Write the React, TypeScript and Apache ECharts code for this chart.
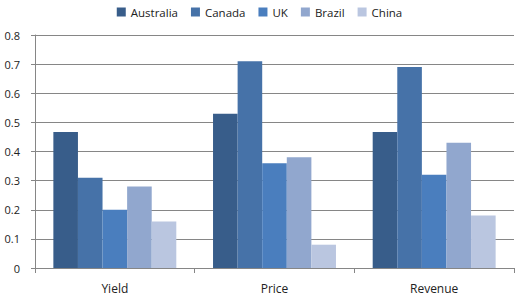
import React, { useEffect, useRef } from "react";
import * as echarts from "echarts";

const categories = ["Yield", "Price", "Revenue"];
const seriesNames = ["Australia", "Canada", "UK", "Brazil", "China"];
const australia = [0.467, 0.53, 0.467];
const canada = [0.31, 0.71, 0.69];
const uk = [0.2, 0.36, 0.32];
const brazil = [0.28, 0.38, 0.43];
const china = [0.16, 0.08, 0.18];
const colors = ["#385D8A", "#4672A8", "#4A7EBE", "#91A7CE", "#BAC6E0"];

export default function App() {
  const ref = useRef<HTMLDivElement>(null);
  useEffect(() => {
    if (!ref.current) return;
    const chart = echarts.init(ref.current, null, { renderer: "svg" });
    const values = [australia, canada, uk, brazil, china];
    chart.setOption({
      animation: false,
      textStyle: { fontFamily: "Open Sans" },
      legend: {
        top: 1,
        left: "center",
        itemWidth: 9,
        itemHeight: 9,
        itemGap: 13,
        icon: "rect",
        textStyle: { fontSize: 11.5, color: "#222", fontFamily: "Open Sans" },
        data: seriesNames,
      },
      grid: { left: 35, right: 5, top: 35, bottom: 29, containLabel: false },
      xAxis: {
        type: "category",
        data: categories,
        axisLine: { lineStyle: { color: "#868686" } },
        axisTick: { show: true, length: 5, lineStyle: { color: "#868686" } },
        axisLabel: { color: "#222", fontSize: 12, margin: 14, fontFamily: "Open Sans" },
      },
      yAxis: {
        type: "value",
        min: 0,
        max: 0.8,
        interval: 0.1,
        axisLine: { show: true, lineStyle: { color: "#868686" } },
        axisTick: { show: true, length: 4, lineStyle: { color: "#868686" } },
        axisLabel: {
          color: "#222",
          fontSize: 11,
          margin: 15,
          fontFamily: "Open Sans",
          formatter: (v: number) => (v === 0 ? "0" : v.toFixed(1)),
        },
        splitLine: { lineStyle: { color: "#868686" } },
      },
      series: seriesNames.map((name, i) => ({
        name,
        type: "bar",
        data: values[i],
        barGap: "0%",
        barCategoryGap: "23%",
        itemStyle: { color: colors[i] },
      })),
    });
    return () => chart.dispose();
  }, []);
  return <div ref={ref} style={{ width: 519, height: 297, position: "absolute", left: 0, top: 0 }} />;
}
